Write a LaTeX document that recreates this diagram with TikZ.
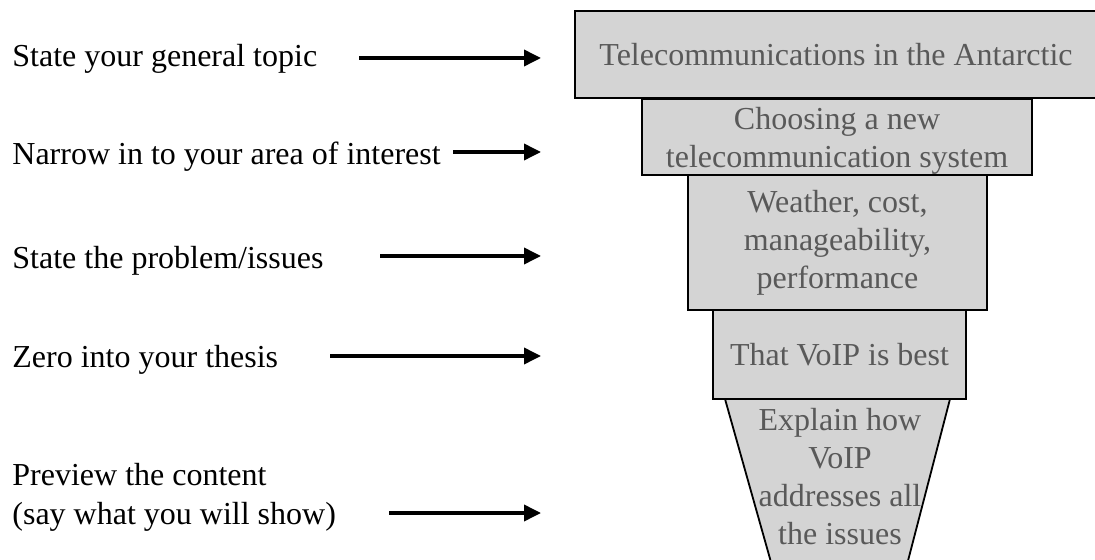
\documentclass[tikz,border=0pt]{standalone}
\usepackage{fontspec}
\setmainfont{Liberation Serif}
\usetikzlibrary{arrows.meta}
\definecolor{boxgray}{HTML}{D4D4D4}
\definecolor{textgray}{HTML}{595959}

\begin{document}
\begin{tikzpicture}[x=0.5pt,y=-0.5pt,
  tier/.style={draw=black,line width=0.9pt,fill=boxgray,text=textgray,align=center,inner sep=0pt,font=\fontsize{16}{19}\selectfont},
  cue/.style={anchor=base west,align=left,inner sep=0pt,font=\fontsize{16}{19.5}\selectfont},
  pointer/.style={-{Triangle[length=8.5pt,width=8pt]},line width=1.8pt}]
  \useasboundingbox (0,0) rectangle (1095,560);
  \clip (0,0) rectangle (1095,560);
  % Funnel tip (runs off the bottom)
  \filldraw[fill=boxgray,line width=0.9pt] (725,399) -- (776,580) -- (903,580) -- (950,399);
  \node[text=textgray,align=center,font=\fontsize{16}{19}\selectfont] (tip) at (840,477)
    {Explain how\\VoIP\\addresses all\\the issues};
  % Funnel levels
  \node[tier,minimum width=261pt,minimum height=43.5pt] (topic) at (836,54.5)
    {Telecommunications in the Antarctic};
  \node[tier,minimum width=195pt,minimum height=38pt,text depth=0pt] (area) at (837,137)
    {Choosing a new\\telecommunication system};
  \node[tier,minimum width=149.5pt,minimum height=67.5pt] (issues) at (837.5,242.5)
    {Weather, cost,\\manageability,\\performance};
  \node[tier,minimum width=126.5pt,minimum height=44.5pt] (thesis) at (839.5,354.5)
    {That VoIP is best};
  % Left side steps
  \node[cue] (c1) at (12,67) {State your general topic};
  \node[cue] (c2) at (12,165) {Narrow in to your area of interest};
  \node[cue] (c3) at (12,269) {State the problem/issues};
  \node[cue] (c4) at (12,367) {Zero into your thesis};
  \node[cue] (c5) at (12,524) {Preview the content\\(say what you will show)};
  % Arrows
  \foreach \n/\xs/\yy in {1/359/58, 2/453/152, 3/380/256, 4/330/356, 5/389/513} {
    \coordinate (from\n) at (\xs,\yy);
    \coordinate (to\n) at (541,\yy);
    \draw[pointer] (from\n) -- (to\n);
  }
\end{tikzpicture}
\end{document}
